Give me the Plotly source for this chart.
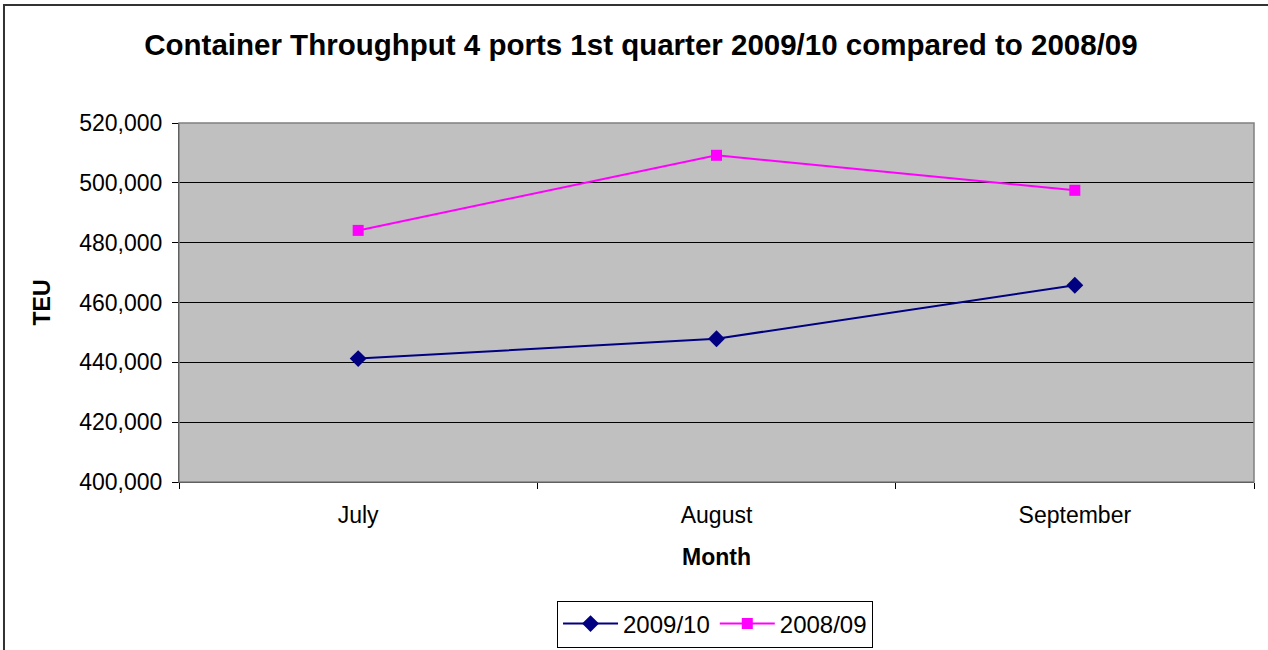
import plotly.graph_objects as go

months = ["July", "August", "September"]
teu_2009_10 = [441250, 447900, 465750]
teu_2008_09 = [484100, 509200, 497500]

FONT = "Liberation Sans, Arial, sans-serif"

fig = go.Figure()

fig.add_trace(go.Scatter(
    x=months, y=teu_2009_10, name="2009/10", mode="lines+markers",
    line=dict(color="#000080", width=2),
    marker=dict(symbol="diamond", size=13, color="#000080"),
))
fig.add_trace(go.Scatter(
    x=months, y=teu_2008_09, name="2008/09", mode="lines+markers",
    line=dict(color="#FF00FF", width=2),
    marker=dict(symbol="square", size=11, color="#FF00FF"),
))

# Borde exterior del grafico
fig.add_shape(type="rect", xref="paper", yref="paper",
              x0=-0.1628, y0=-0.5, x1=1.03, y1=1.3287,
              line=dict(color="#333333", width=2), layer="below")

# Borde gris del area de trazado
fig.add_shape(type="rect", xref="paper", yref="paper", x0=0, y0=0, x1=1, y1=1,
              line=dict(color="#808080", width=1.5))

fig.update_layout(
    width=1268, height=650,
    margin=dict(l=179, r=14, t=123, b=168),
    paper_bgcolor="white",
    plot_bgcolor="#C0C0C0",
    font=dict(family=FONT, size=23, color="black"),
    title=dict(text="<b>Container Throughput 4 ports 1st quarter 2009/10 compared to 2008/09</b>",
               x=0.5055, xanchor="center", y=0.932, yanchor="middle",
               font=dict(size=29.5, family=FONT)),
    xaxis=dict(
        title=dict(text="<b>Month</b>", font=dict(size=23), standoff=22),
        range=[-0.5, 2.5], showgrid=False, zeroline=False, automargin=False,
        showline=True, linecolor="black", linewidth=1,
        ticks="outside", tickson="boundaries", ticklen=6, tickcolor="black",
        ticklabelstandoff=12, tickfont=dict(size=23),
    ),
    yaxis=dict(
        title=dict(text="<b>TEU</b>", font=dict(size=23), standoff=22),
        range=[400000, 520000], dtick=20000, tickformat=",d", automargin=False,
        showgrid=True, gridcolor="black", gridwidth=1, zeroline=False,
        showline=True, linecolor="black", linewidth=1,
        ticks="outside", ticklen=6, tickcolor="black",
        ticklabelstandoff=5, tickfont=dict(size=23),
    ),
    legend=dict(
        orientation="h", xref="container", yref="container",
        x=0.5639, xanchor="center", y=0.04, yanchor="middle",
        bordercolor="black", borderwidth=1, bgcolor="white",
        font=dict(size=24), itemwidth=55,
    ),
    showlegend=True,
)

fig.write_html("out.html", config={"displayModeBar": False},
               post_script="document.body.style.margin='0';")
